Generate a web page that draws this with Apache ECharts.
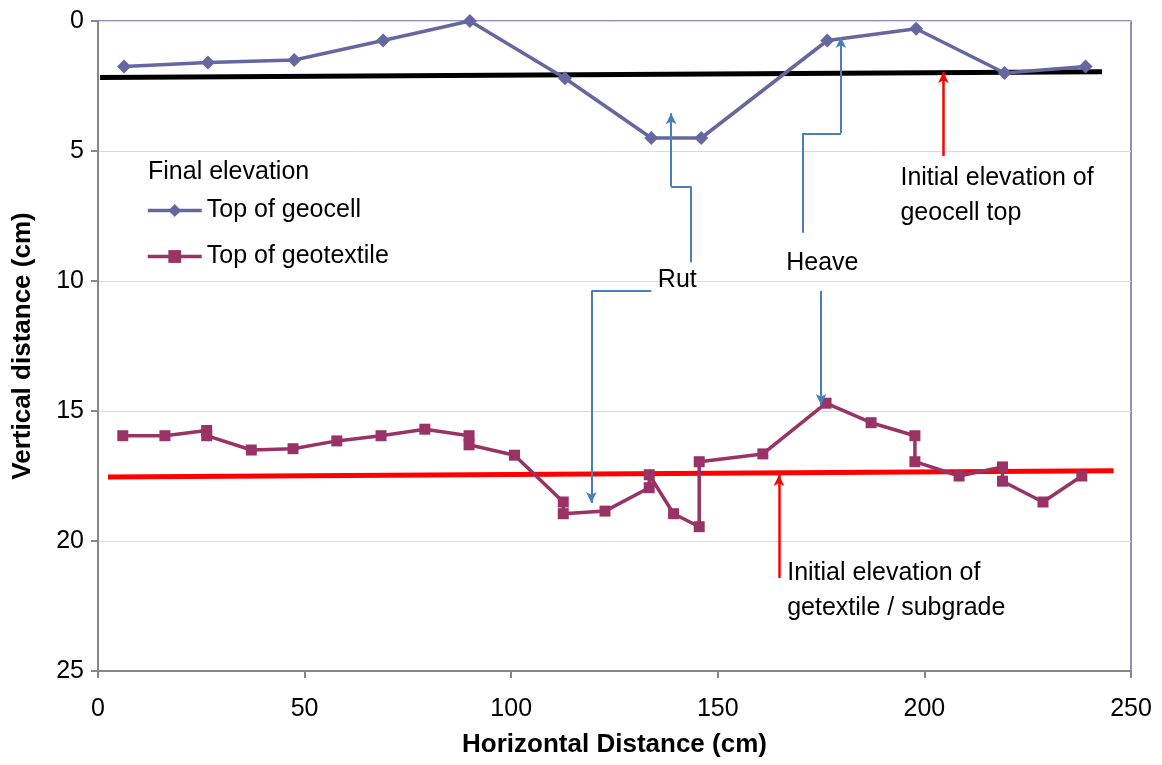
<!DOCTYPE html>
<html>
<head>
<meta charset="utf-8">
<script src="https://cdn.jsdelivr.net/npm/echarts@6/dist/echarts.min.js"></script>
<style>
  html, body { margin: 0; padding: 0; background: #fff; }
  #chart { width: 1162px; height: 765px; }
</style>
</head>
<body>
<div id="chart"></div>
<script>
// Surveyed profile after loading: [horizontal distance (cm), depth below reference (cm)]
const geocellTop = [
  [6.3, 1.75], [26.6, 1.6], [47.5, 1.5], [69, 0.75], [90, 0],
  [113, 2.2], [133.9, 4.5], [146, 4.5], [176.5, 0.75], [198, 0.3],
  [219.4, 2.0], [239, 1.75]
];
const geotextileTop = [
  [6.0, 15.95], [16.2, 15.95], [26.3, 15.75], [26.3, 15.95], [37.1, 16.5],
  [47.2, 16.45], [57.8, 16.15], [68.5, 15.95], [79.1, 15.7], [89.8, 15.95],
  [89.8, 16.3], [100.8, 16.7], [112.6, 18.5], [112.6, 18.95], [122.7, 18.85],
  [133.4, 17.95], [133.4, 17.45], [139.3, 18.95], [145.5, 19.45], [145.5, 16.95],
  [160.9, 16.65], [176.2, 14.7], [187.1, 15.45], [197.7, 15.95], [197.7, 16.95],
  [208.4, 17.5], [218.9, 17.15], [218.9, 17.7], [228.7, 18.5], [238.1, 17.5]
];
// Initial (pre-loading) elevations
const initialGeocell = [[0.5, 2.17], [243, 1.95]];
const initialSubgrade = [[2.4, 17.54], [245.8, 17.3]];

const seriesNames = ['Top of geocell', 'Top of geotextile'];
const xTicks = { min: 0, max: 250, interval: 50 };
const yTicks = { min: 0, max: 25, interval: 5 };

// Callout leader lines (data coordinates); the last segment carries the arrowhead
const rutUp = [[143.5, 9.28], [143.5, 6.37], [138.7, 6.37], [138.7, 3.55]];
const rutDown = [[133.9, 10.38], [119.4, 10.38], [119.4, 18.54]];
const heaveUp = [[170.5, 8.14], [170.5, 4.32], [179.8, 4.32], [179.8, 0.62]];
const heaveDown = [[175.0, 10.38], [175.0, 14.77]];
const geocellPointer = [[204.6, 5.19], [204.6, 1.96]];
const subgradePointer = [[164.8, 21.42], [164.8, 17.46]];

// Text notes: [x, y, text, align]
const notes = [
  [12.1, 5.8, 'Final elevation', 'left'],
  [140.2, 9.96, 'Rut', 'center'],
  [175.3, 9.3, 'Heave', 'center'],
  [194.2, 6.71, 'Initial elevation of\ngeocell top', 'left'],
  [166.8, 21.9, 'Initial elevation of\ngetextile / subgrade', 'left']
];

const FONT = 'Liberation Sans, Arial, sans-serif';
const FS = 25;

function segments(points) {
  const out = [];
  for (let i = 0; i < points.length - 1; i++) {
    const last = i === points.length - 2;
    out.push([
      { coord: points[i], symbol: 'none' },
      { coord: points[i + 1], symbol: last ? 'arrow' : 'none', symbolSize: [8, 11] }
    ]);
  }
  return out;
}

const blue = '#4A7EBB';
const red = '#FF0000';
const axisGray = '#868686';

const chart = echarts.init(document.getElementById('chart'), null, { renderer: 'canvas' });
chart.setOption({
  animation: false,
  backgroundColor: '#ffffff',
  textStyle: { fontFamily: FONT },
  grid: {
    left: 98, top: 21, right: 31, bottom: 94,
    show: true, borderColor: '#6B6BA0', borderWidth: 1.5, backgroundColor: 'transparent'
  },
  legend: {
    data: seriesNames,
    orient: 'vertical',
    left: 146, top: 198, padding: 0,
    itemWidth: 54, itemHeight: 16, itemGap: 21,
    lineStyle: { width: 3.5 },
    textStyle: { fontSize: FS, color: '#000', fontFamily: FONT },
    selectedMode: false
  },
  xAxis: {
    type: 'value', position: 'bottom',
    min: xTicks.min, max: xTicks.max, interval: xTicks.interval,
    name: 'Horizontal Distance (cm)', nameLocation: 'middle', nameGap: 61,
    nameTextStyle: { fontSize: 26, fontWeight: 'bold', color: '#000', fontFamily: FONT },
    axisLine: { show: true, onZero: false, lineStyle: { color: axisGray, width: 2 } },
    axisTick: { show: true, inside: false, length: 7, lineStyle: { color: axisGray, width: 2 } },
    axisLabel: { fontSize: FS, color: '#000', margin: 26, fontFamily: FONT },
    splitLine: { show: false }
  },
  yAxis: {
    type: 'value', inverse: true, position: 'left',
    min: yTicks.min, max: yTicks.max, interval: yTicks.interval,
    name: 'Vertical distance (cm)', nameLocation: 'middle', nameGap: 62,
    nameTextStyle: { fontSize: 26, fontWeight: 'bold', color: '#000', fontFamily: FONT },
    axisLine: { show: true, onZero: false, lineStyle: { color: axisGray, width: 2 } },
    axisTick: { show: true, inside: false, length: 7, lineStyle: { color: axisGray, width: 2 } },
    axisLabel: { fontSize: FS, color: '#000', margin: 14, fontFamily: FONT },
    splitLine: { show: true, lineStyle: { color: '#FBD6A4', width: 1 } }
  },
  series: [
    {
      name: 'Initial geocell', type: 'line', data: initialGeocell,
      showSymbol: false, lineStyle: { color: '#000', width: 5 }, z: 3
    },
    {
      name: 'Initial subgrade', type: 'line', data: initialSubgrade,
      showSymbol: false, lineStyle: { color: red, width: 5 }, z: 3
    },
    {
      name: seriesNames[0], type: 'line', data: geocellTop,
      symbol: 'diamond', symbolSize: 14,
      itemStyle: { color: '#6667A0' }, lineStyle: { color: '#6667A0', width: 3.5 }, z: 4
    },
    {
      name: seriesNames[1], type: 'line', data: geotextileTop,
      symbol: 'rect', symbolSize: 11,
      itemStyle: { color: '#993366' }, lineStyle: { color: '#993366', width: 3.5 }, z: 4
    },
    {
      name: 'callouts', type: 'line', data: [], z: 5,
      markLine: {
        silent: true, animation: false,
        label: { show: false },
        lineStyle: { color: blue, width: 2, type: 'solid' },
        data: [].concat(segments(rutUp), segments(rutDown), segments(heaveUp), segments(heaveDown))
      }
    },
    {
      name: 'pointers', type: 'line', data: [], z: 5,
      markLine: {
        silent: true, animation: false,
        label: { show: false },
        lineStyle: { color: red, width: 2.5, type: 'solid' },
        data: [].concat(segments(geocellPointer), segments(subgradePointer))
      }
    },
    {
      name: 'notes', type: 'line', data: [], z: 6,
      markPoint: {
        silent: true, animation: false,
        symbol: 'rect', symbolSize: 1,
        itemStyle: { color: 'rgba(0,0,0,0)' },
        data: notes.map(n => ({
          coord: [n[0], n[1]],
          label: {
            show: true, position: 'inside', formatter: n[2], align: n[3],
            verticalAlign: 'middle',
            fontSize: FS, lineHeight: 35, color: '#000', fontFamily: FONT
          }
        }))
      }
    }
  ]
});
</script>
</body>
</html>
